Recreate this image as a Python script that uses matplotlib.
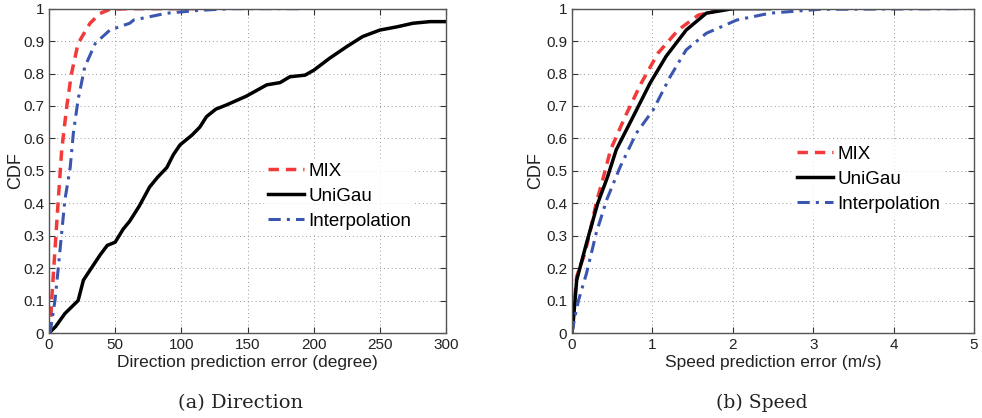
import matplotlib
matplotlib.use('Agg')
from matplotlib import pyplot as plt
import numpy as np

# (a) direction error, degree
dir_mix_x = [0, 0.8, 2, 4.5, 7, 9.6, 13.4, 17, 22, 31, 38.5, 46, 60, 120]
dir_mix_y = [0, 0.0, 0.1, 0.256, 0.41, 0.564, 0.698, 0.80, 0.893, 0.955, 0.985, 0.998, 1.0, 1.0]

dir_uni_x = [0, 5, 12, 22, 26, 32, 38.5, 44, 50, 56, 61, 68, 76, 82, 89, 94, 99, 108,
             114, 119, 126, 134, 149, 164.5, 174.6, 182, 193.5, 200, 212, 225, 237,
             250, 263, 275, 288, 300]
dir_uni_y = [0, 0.02, 0.06, 0.10, 0.163, 0.20, 0.24, 0.27, 0.28, 0.32, 0.345, 0.39,
             0.45, 0.48, 0.51, 0.55, 0.58, 0.61, 0.635, 0.667, 0.69, 0.703, 0.73, 0.765,
             0.772, 0.79, 0.795, 0.81, 0.847, 0.883, 0.914, 0.934, 0.944, 0.955, 0.96, 0.96]

dir_int_x = [0, 0.8, 4.5, 7, 9.6, 12, 16, 18.4, 22, 27, 35, 46, 61, 64, 89, 114, 139, 190]
dir_int_y = [0, 0.0, 0.1, 0.2, 0.31, 0.41, 0.51, 0.616, 0.72, 0.82, 0.893, 0.934, 0.955,
             0.965, 0.986, 0.995, 1.0, 1.0]

# (b) speed error, m/s
spd_mix_x = [0, 0.017, 0.037, 0.058, 0.16, 0.23, 0.30, 0.39, 0.48, 0.66, 0.86, 1.07,
             1.32, 1.57, 1.84, 2.0]
spd_mix_y = [0, 0.05, 0.112, 0.174, 0.246, 0.318, 0.40, 0.48, 0.565, 0.667, 0.77, 0.863,
             0.934, 0.98, 0.996, 1.0]

spd_uni_x = [0, 0.017, 0.058, 0.18, 0.32, 0.44, 0.55, 0.76, 0.97, 1.17, 1.42, 1.67, 2.0, 2.46]
spd_uni_y = [0, 0.04, 0.163, 0.277, 0.40, 0.48, 0.565, 0.667, 0.77, 0.853, 0.934, 0.986,
             1.0, 1.0]

spd_int_x = [0, 0.036, 0.08, 0.18, 0.30, 0.43, 0.60, 0.80, 1.01, 1.22, 1.42, 1.67, 2.05,
             2.46, 3.08, 4.9]
spd_int_y = [0, 0.05, 0.10, 0.184, 0.307, 0.41, 0.513, 0.616, 0.688, 0.79, 0.873, 0.924,
             0.965, 0.986, 0.998, 1.0]

labels = ['MIX', 'UniGau', 'Interpolation']
red = '#f23a3a'
blue = '#3a56b0'

plt.rcParams['font.family'] = ['Liberation Sans', 'DejaVu Sans']

fig = plt.figure(figsize=(9.82, 4.18), dpi=100)
ax1 = fig.add_axes([0.0499, 0.2033, 0.4043, 0.776])
ax2 = fig.add_axes([0.5825, 0.2033, 0.4094, 0.776])


def style(ax, xlim, xticks, xlabel, ylab_x):
    ax.set_xlim(xlim)
    ax.set_ylim(0, 1)
    ax.set_xticks(xticks)
    ax.set_yticks(np.arange(0, 1.01, 0.1))
    ax.set_yticklabels(['0', '0.1', '0.2', '0.3', '0.4', '0.5', '0.6', '0.7', '0.8', '0.9', '1'])
    ax.grid(True, linestyle=(0, (1, 3)), color='#999999', linewidth=0.7)
    ax.tick_params(direction='in', top=True, right=True, labelsize=11, length=4,
                   colors='#333333', labelcolor='#222222')
    for s in ax.spines.values():
        s.set_color('#555555')
        s.set_linewidth(1.0)
    ax.set_xlabel(xlabel, fontsize=12.5, labelpad=2, color='#222222')
    ax.set_ylabel('CDF', fontsize=13, color='#222222')
    ax.yaxis.set_label_coords(ylab_x, 0.5)


def add_legend(ax, anchor):
    leg = ax.legend(loc='upper left', bbox_to_anchor=anchor, frameon=True, fontsize=13.5,
                    handlelength=1.92, handletextpad=0.25, labelspacing=0.42, borderpad=0.2,
                    fancybox=False)
    leg.get_frame().set_edgecolor('white')
    leg.get_frame().set_linewidth(0)


ax1.plot(dir_mix_x, dir_mix_y, color=red, linestyle='--', linewidth=2.5, dashes=(3, 2), label=labels[0])
ax1.plot(dir_uni_x, dir_uni_y, color='black', linestyle='-', linewidth=2.5, label=labels[1])
ax1.plot(dir_int_x, dir_int_y, color=blue, linestyle='-.', linewidth=2.2, dashes=(4, 2, 1, 2), label=labels[2])
style(ax1, (0, 300), [0, 50, 100, 150, 200, 250, 300], 'Direction prediction error (degree)', -0.062)
add_legend(ax1, (0.518, 0.566))

ax2.plot(spd_mix_x, spd_mix_y, color=red, linestyle='--', linewidth=2.5, dashes=(3, 2), label=labels[0])
ax2.plot(spd_uni_x, spd_uni_y, color='black', linestyle='-', linewidth=2.5, label=labels[1])
ax2.plot(spd_int_x, spd_int_y, color=blue, linestyle='-.', linewidth=2.2, dashes=(4, 2, 1, 2), label=labels[2])
style(ax2, (0, 5), [0, 1, 2, 3, 4, 5], 'Speed prediction error (m/s)', -0.07)
add_legend(ax2, (0.527, 0.618))

fig.text(0.2454, 0.036, '(a) Direction', ha='center', va='center', fontsize=14,
         family='DejaVu Serif', color='#222222')
fig.text(0.776, 0.036, '(b) Speed', ha='center', va='center', fontsize=13.5,
         family='DejaVu Serif', color='#222222')

fig.savefig('out.png', dpi=100)
